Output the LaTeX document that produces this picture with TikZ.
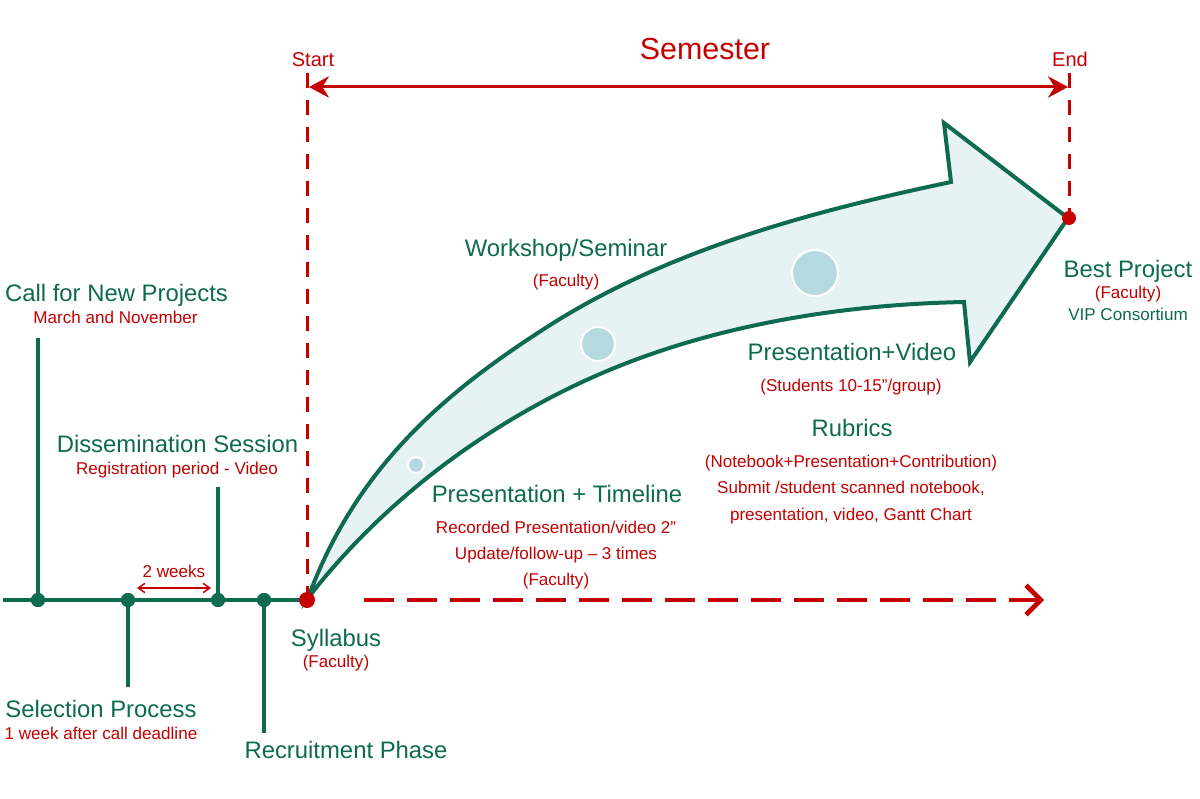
\documentclass[tikz,border=0pt]{standalone}
\usepackage{fontspec}
\setmainfont{Liberation Sans}
\usetikzlibrary{arrows.meta}
\definecolor{vgreen}{RGB}{14,107,80}
\definecolor{vred}{RGB}{196,0,0}
\definecolor{vfill}{RGB}{231,242,245}
\definecolor{vbub}{RGB}{182,217,223}
\begin{document}
\begin{tikzpicture}[x=0.75pt,y=-0.75pt,
  big/.style={font=\fontsize{17.9}{21}\selectfont, text=vgreen, inner sep=0pt, anchor=base},
  small/.style={font=\fontsize{12.8}{15}\selectfont, text=vred, inner sep=0pt, anchor=base},
  smallg/.style={small, text=vgreen},
  titletext/.style={font=\fontsize{22.8}{26}\selectfont, text=vred, inner sep=0pt, anchor=base},
  edgetext/.style={font=\fontsize{15}{18}\selectfont, text=vred, inner sep=0pt, anchor=base},
  gdot/.style={circle, fill=vgreen, minimum size=10.5pt, inner sep=0pt},
  rdot/.style={circle, fill=vred, minimum size=12pt, inner sep=0pt},
  gline/.style={draw=vgreen, line width=3pt},
  rdash/.style={draw=vred, line width=2.25pt, dash pattern=on 11.25pt off 9pt},
  bubble/.style={circle, fill=vbub, draw=white, line width=1.5pt, inner sep=0pt},
  bigarrow/.style={fill=vfill, draw=vgreen, line width=3pt, line join=miter, miter limit=10}
]
\useasboundingbox[fill=white] (0,0) rectangle (1200,799);

% curved arrow
\path[bigarrow] (308,598) .. controls (356.3,466.4) and (446,391.7) .. (547,327)
  .. controls (667.4,249.9) and (811,211.5) .. (951,182)
  -- (944,123) -- (1068,218) -- (970,362) -- (964,302)
  .. controls (834,304.6) and (697.7,327.7) .. (580,383)
  .. controls (475,432.3) and (378.8,506.4) .. (308,598) -- cycle;

% bubbles
\node[bubble, minimum size=12pt] (b1) at (416,465) {};
\node[bubble, minimum size=25.5pt] (b2) at (598,344) {};
\node[bubble, minimum size=34.5pt] (b3) at (815,273) {};

% coordinates
\coordinate (ls) at (3,600);
\coordinate (c1) at (38,338);
\coordinate (c2) at (128,687);
\coordinate (c3) at (218,487);
\coordinate (c4) at (264,733);
\coordinate (st) at (307,73);
\coordinate (en) at (1069,73);
\coordinate (sa) at (309,87);
\coordinate (sb) at (1068,87);
\coordinate (da) at (364,600);
\coordinate (db) at (1044,600);
\coordinate (wa) at (137,588);
\coordinate (wb) at (211,588);

% dots
\node[gdot] (d1) at (38,600) {};
\node[gdot] (d2) at (128,600) {};
\node[gdot] (d3) at (218,600) {};
\node[gdot] (d4) at (264,600) {};

% dashed red lines
\draw[rdash] (st) -- (307,600);
\draw[rdash] (en) -- (1069,218);

% green timeline
\draw[gline] (ls) -- (307,600);
\draw[gline] (d1.center) -- (c1);
\draw[gline] (d2.center) -- (c2);
\draw[gline] (d3.center) -- (c3);
\draw[gline] (d4.center) -- (c4);
\node[gdot] at (d1) {};
\node[gdot] at (d2) {};
\node[gdot] at (d3) {};
\node[gdot] at (d4) {};

\node[rdot] (r1) at (307,600) {};
\node[rdot, minimum size=10.5pt] (r2) at (1069,218) {};

% semester arrow
\draw[vred, line width=2.25pt, {Stealth[length=15pt,width=16pt,inset=5pt]}-{Stealth[length=15pt,width=16pt,inset=5pt]}] (sa) -- (sb);

% bottom dashed arrow
\draw[vred, line width=3.5pt, dash pattern=on 22.5pt off 9.75pt, -{Straight Barb[length=11pt,width=22pt]}] (da) -- (db);

% 2 weeks arrow
\draw[vred, line width=1.1pt, {Straight Barb[length=5pt,width=7pt]}-{Straight Barb[length=5pt,width=7pt]}] (wa) -- (wb);

% texts
\node[titletext] (sem) at (705,60) {Semester};
\node[edgetext] (tst) at (313,67) {Start};
\node[edgetext] (ten) at (1070,67) {End};

\node[big] (t1) at (116.5,301) {Call for New Projects};
\node[small] (t1a) at (115.5,323) {March and November};
\node[big] (t2) at (177.5,452) {Dissemination Session};
\node[small] (t2a) at (177,474) {Registration period - Video};
\node[small] (tw) at (174,577) {2 weeks};
\node[big] (t3) at (101,717) {Selection Process};
\node[small] (t3a) at (101,739) {1 week after call deadline};
\node[big] (t4) at (346,758) {Recruitment Phase};
\node[big] (t5) at (336,646) {Syllabus};
\node[small] (t5a) at (336,667) {(Faculty)};

\node[big] (t6) at (566,256) {Workshop/Seminar};
\node[small] (t6a) at (566,286) {(Faculty)};

\node[big] (t7) at (557,502) {Presentation + Timeline};
\node[small] (t7a) at (556,533) {Recorded Presentation/video 2”};
\node[small] (t7b) at (556,559) {Update/follow-up – 3 times};
\node[small] (t7c) at (556,585) {(Faculty)};

\node[big] (t8) at (852,360) {Presentation+Video};
\node[small] (t8a) at (851,391) {(Students 10-15”/group)};
\node[big] (t9) at (852,436) {Rubrics};
\node[small] (t9a) at (851,467) {(Notebook+Presentation+Contribution)};
\node[small] (t9b) at (851,493) {Submit /student scanned notebook,};
\node[small] (t9c) at (851,520) {presentation, video, Gantt Chart};

\node[big] (t10) at (1128,277) {Best Project};
\node[small] (t10a) at (1128,298) {(Faculty)};
\node[smallg] (t10b) at (1128,320) {VIP Consortium};
\end{tikzpicture}
\end{document}
